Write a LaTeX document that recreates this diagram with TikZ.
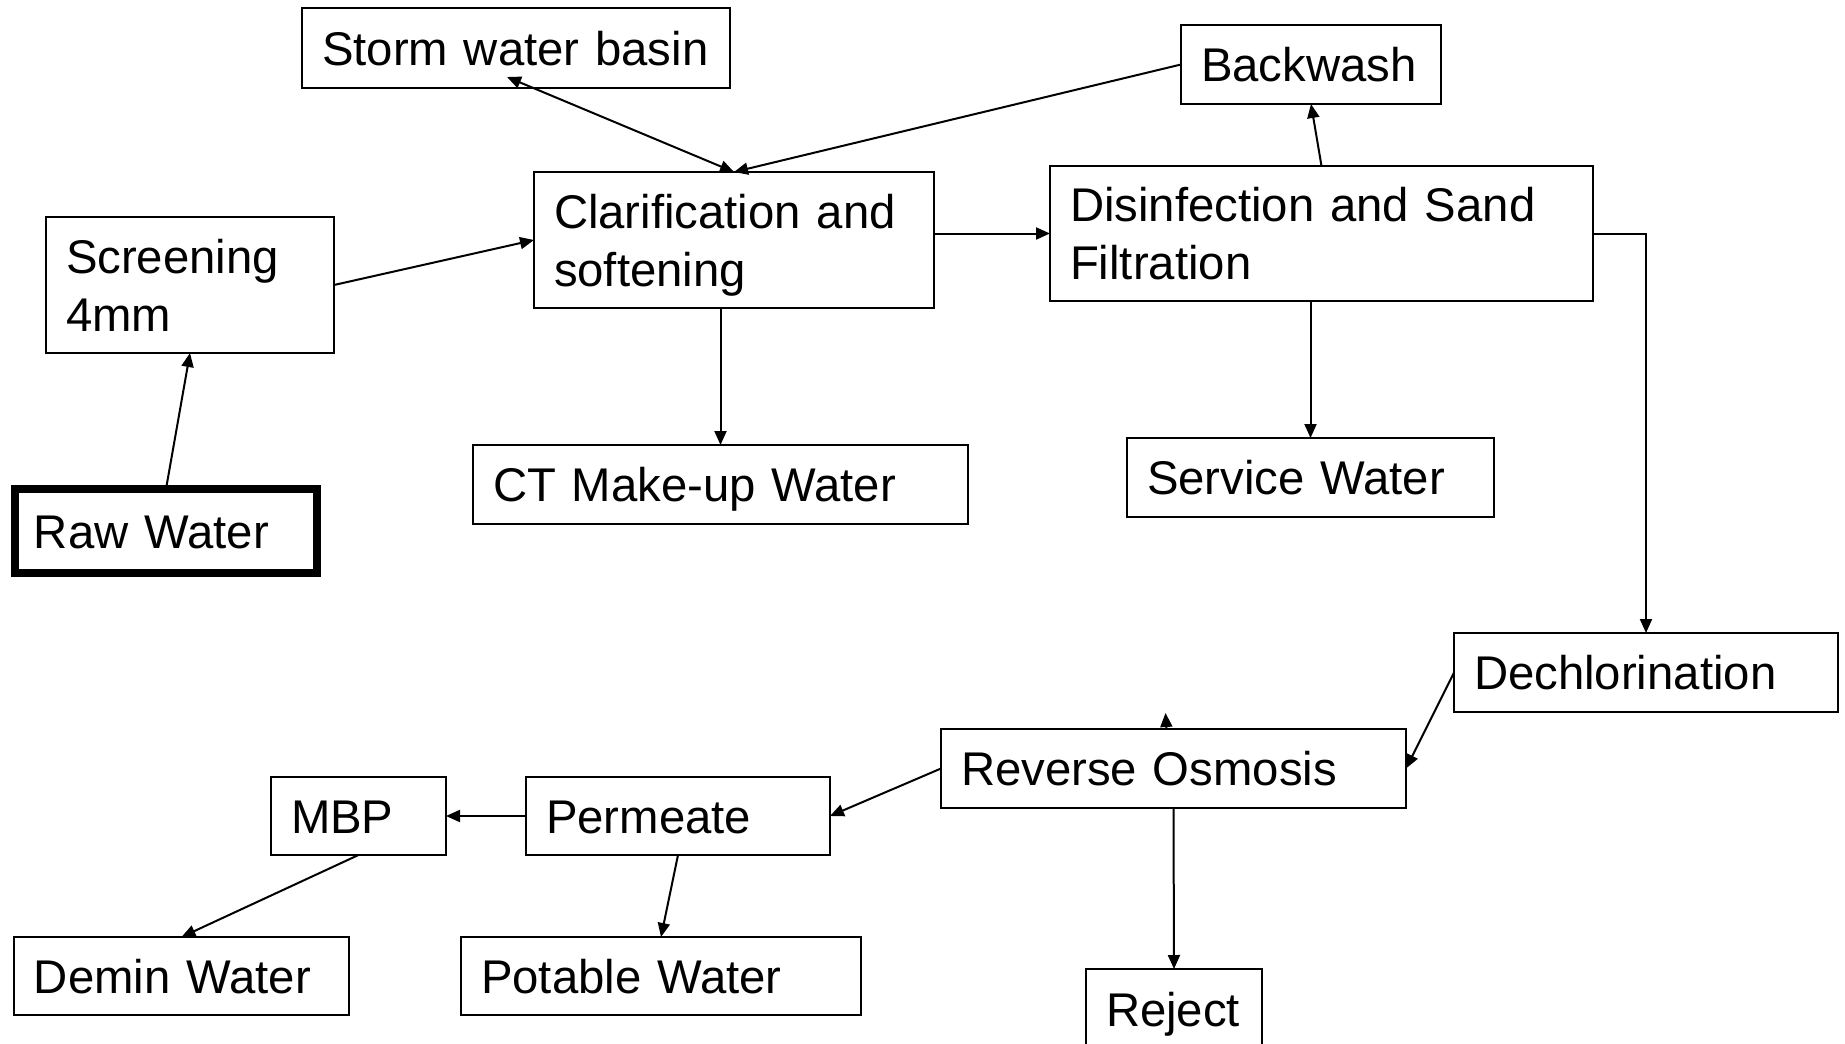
\documentclass[tikz,border=0pt]{standalone}
\usepackage{fontspec}
\newfontfamily\boxfont{Liberation Sans}
\usetikzlibrary{arrows.meta,calc}
\begin{document}
\begin{tikzpicture}[x=1pt,y=-1pt,
  box/.style={draw, line width=2pt, inner xsep=20pt, inner ysep=0pt, outer sep=0pt,
    anchor=north west, align=left, font=\boxfont\fontsize{47.3}{58}\selectfont,
    text height=34pt, text depth=0pt},
  twoline/.style={text depth=58pt},
  conn/.style={line width=2pt, -{Triangle[length=14pt,width=12pt]}},
  dconn/.style={line width=2pt, {Triangle[length=14pt,width=12pt]}-{Triangle[length=14pt,width=12pt]}}]
\useasboundingbox[fill=white] (0,0) rectangle (1845,1044);
\node[box, text width=388pt, minimum height=80pt] (storm) at (302,8) {Storm water basin};
\node[box, text width=220pt, minimum height=79pt] (backwash) at (1181,25) {Backwash};
\node[box, twoline, text width=360pt, minimum height=136pt] (clar) at (534,172) {Clarification and\\softening};
\node[box, twoline, text width=503pt, minimum height=135pt] (disinf) at (1050,166) {Disinfection and Sand\\Filtration};
\node[box, twoline, text width=248pt, minimum height=136pt] (screen) at (46,217) {Screening\\4mm};
\node[box, line width=8pt, inner xsep=19pt, text width=264pt, minimum height=84pt] (raw) at (15,489) {Raw Water};
\node[box, text width=455pt, minimum height=79pt] (ct) at (473,445) {CT Make-up Water};
\node[box, text width=327pt, minimum height=79pt] (service) at (1127,438) {Service Water};
\node[box, text width=344pt, minimum height=79pt] (dechlor) at (1454,633) {Dechlorination};
\node[box, text width=425pt, minimum height=79pt] (ro) at (941,729) {Reverse Osmosis};
\node[box, text width=135pt, minimum height=78pt] (mbp) at (271,777) {MBP};
\node[box, text width=264pt, minimum height=78pt] (perm) at (526,777) {Permeate};
\node[box, text width=295pt, minimum height=78pt] (demin) at (14,937) {Demin Water};
\node[box, text width=360pt, minimum height=78pt] (potable) at (461,937) {Potable Water};
\node[box, text width=136pt, minimum height=80pt] (reject) at (1086,969) {Reject};
\coordinate (stormtip) at ($(storm.south)+(-9,-11)$);
\coordinate (strayA) at ($(ro.north)+(-7,0)$);
\coordinate (strayB) at ($(ro.north)+(-8,-16)$);
\draw[conn] (raw.north) -- (screen.south);
\draw[conn] (screen.east) -- (clar.west);
\draw[dconn] (stormtip) -- (clar.north);
\draw[conn] (backwash.west) -- (clar.north);
\draw[conn] (disinf.west -| clar.east) -- (disinf.west);
\draw[conn] (clar.south -| ct.north) -- (ct.north);
\draw[conn] (disinf.north) -- (backwash.south);
\draw[conn] (disinf.south -| service.north) -- (service.north);
\draw[conn] (disinf.east) -| (dechlor.north);
\draw[conn] (dechlor.west) -- (ro.east);
\draw[conn] (strayA) -- (strayB);
\draw[conn] (ro.west) -- (perm.east);
\draw[conn] (perm.west) -- (mbp.east);
\draw[conn] (perm.south) -- (potable.north);
\draw[conn] (mbp.south) -- (demin.north);
\draw[conn] (ro.south) -- (reject.north);
\end{tikzpicture}
\end{document}
